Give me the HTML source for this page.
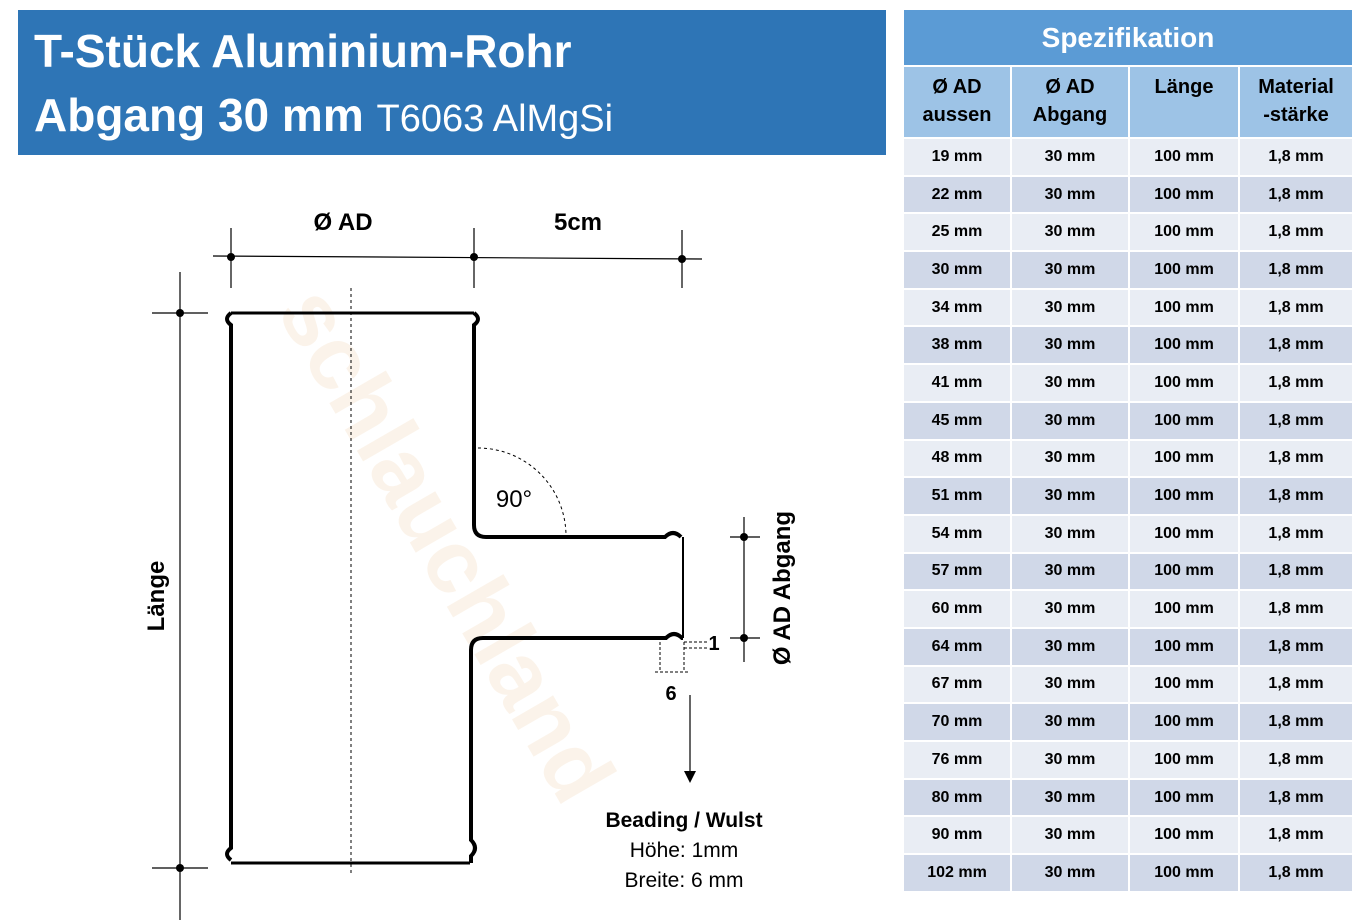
<!DOCTYPE html>
<html><head><meta charset="utf-8"><style>
body{margin:0;width:1357px;height:922px;background:#fff;position:relative;overflow:hidden;font-family:"Liberation Sans",sans-serif}
.ban{position:absolute;left:18px;top:10px;width:868px;height:145px;background:#2e75b6;color:#fff;font-weight:bold}
table{position:absolute;left:904px;top:10px;border-collapse:separate;border-spacing:2px 2px;margin:-2px;font-weight:bold;font-size:16px;text-align:center}
td{padding:0}
tr.d{height:35.7px}
</style></head><body>
<div class="ban">
<div style="position:absolute;left:16px;top:14px;font-size:46px">T-Stück Aluminium-Rohr</div>
<div style="position:absolute;left:16px;top:78px;font-size:46px">Abgang 30 mm <span style="font-weight:normal;font-size:38px">T6063 AlMgSi</span></div>
</div>
<svg width="1357" height="922" style="position:absolute;left:0;top:0">
<text x="420" y="560" transform="rotate(60 420 560)" font-size="90" font-weight="bold" fill="#f9ecdd" text-anchor="middle" opacity="0.6">schlauchland</text>
<g stroke="#000" fill="none">
<path d="M231 313 H474 M231 863 H470" stroke-width="3"/>
<path d="M231 313 q-8 6 0 12 V848 q-8 6 0 12" stroke-width="4"/>
<path d="M474 313 q8 6 0 12 V525 q0 12 12 12 H665 q8 -8 16 0 M683 638 H682 q-8 -8 -16 0 H483 q-12 0 -12 12 V840 q8 8 0 16 V863" stroke-width="4"/>
<path d="M683 537 V638" stroke-width="2"/>
<path d="M351 288 V873" stroke-dasharray="3,3" stroke-width="1"/>
<path d="M478 448 A88 88 0 0 1 566 536" stroke-dasharray="3,3" stroke-width="1"/>
<path d="M213 256 L702 259 M231 228 V288 M474 228 V288 M682 230 V288" stroke-width="1.2"/>
<path d="M180 272 V920 M152 313 H208 M152 868 H208" stroke-width="1.2"/>
<path d="M744 517 V662 M730 537 H760 M730 638 H760" stroke-width="1.2"/>
<path d="M660 642 V672 M684 642 V672 M655 672 H688 M684 642 H708 M684 648 H708" stroke-dasharray="3,2" stroke-width="1"/>
<path d="M690 695 V772" stroke-width="1.2"/>
</g>
<g fill="#000"><circle cx="231" cy="257" r="4"/><circle cx="474" cy="257" r="4"/><circle cx="682" cy="259" r="4"/><circle cx="180" cy="313" r="4"/><circle cx="180" cy="868" r="4"/><circle cx="744" cy="537" r="4"/><circle cx="744" cy="638" r="4"/>
<path d="M684 771 L696 771 L690 783Z"/></g>
<g font-family="Liberation Sans,sans-serif" font-size="24" font-weight="bold">
<text x="343" y="230" text-anchor="middle">Ø AD</text>
<text x="578" y="230" text-anchor="middle">5cm</text>
<text x="164" y="596" transform="rotate(-90 164 596)" text-anchor="middle">Länge</text>
<text x="790" y="588" transform="rotate(-90 790 588)" text-anchor="middle">Ø AD Abgang</text>
<text x="514" y="507" text-anchor="middle" font-weight="normal">90°</text>
<text x="714" y="650" text-anchor="middle" font-size="20">1</text>
<text x="671" y="700" text-anchor="middle" font-size="20">6</text>
<text x="684" y="827" text-anchor="middle" font-size="21">Beading / Wulst</text>
<text x="684" y="857" text-anchor="middle" font-size="21" font-weight="normal">Höhe: 1mm</text>
<text x="684" y="887" text-anchor="middle" font-size="21" font-weight="normal">Breite: 6 mm</text>
</g>
</svg>
<table>
<tr><td colspan="4" style="background:#5b9bd5;color:#fff;height:55px;font-size:28px">Spezifikation</td></tr>
<tr style="background:#9dc3e6;font-size:20px;height:70px;vertical-align:top;line-height:28px"><td style="width:106px;padding-top:6px">Ø AD<br>aussen</td><td style="width:116px;padding-top:6px">Ø AD<br>Abgang</td><td style="width:108px;padding-top:6px">Länge</td><td style="width:112px;padding-top:6px">Material<br>-stärke</td></tr>
<tr class="d" style="background:#e9edf4"><td>19 mm</td><td>30 mm</td><td>100 mm</td><td>1,8 mm</td></tr>
<tr class="d" style="background:#d0d8e8"><td>22 mm</td><td>30 mm</td><td>100 mm</td><td>1,8 mm</td></tr>
<tr class="d" style="background:#e9edf4"><td>25 mm</td><td>30 mm</td><td>100 mm</td><td>1,8 mm</td></tr>
<tr class="d" style="background:#d0d8e8"><td>30 mm</td><td>30 mm</td><td>100 mm</td><td>1,8 mm</td></tr>
<tr class="d" style="background:#e9edf4"><td>34 mm</td><td>30 mm</td><td>100 mm</td><td>1,8 mm</td></tr>
<tr class="d" style="background:#d0d8e8"><td>38 mm</td><td>30 mm</td><td>100 mm</td><td>1,8 mm</td></tr>
<tr class="d" style="background:#e9edf4"><td>41 mm</td><td>30 mm</td><td>100 mm</td><td>1,8 mm</td></tr>
<tr class="d" style="background:#d0d8e8"><td>45 mm</td><td>30 mm</td><td>100 mm</td><td>1,8 mm</td></tr>
<tr class="d" style="background:#e9edf4"><td>48 mm</td><td>30 mm</td><td>100 mm</td><td>1,8 mm</td></tr>
<tr class="d" style="background:#d0d8e8"><td>51 mm</td><td>30 mm</td><td>100 mm</td><td>1,8 mm</td></tr>
<tr class="d" style="background:#e9edf4"><td>54 mm</td><td>30 mm</td><td>100 mm</td><td>1,8 mm</td></tr>
<tr class="d" style="background:#d0d8e8"><td>57 mm</td><td>30 mm</td><td>100 mm</td><td>1,8 mm</td></tr>
<tr class="d" style="background:#e9edf4"><td>60 mm</td><td>30 mm</td><td>100 mm</td><td>1,8 mm</td></tr>
<tr class="d" style="background:#d0d8e8"><td>64 mm</td><td>30 mm</td><td>100 mm</td><td>1,8 mm</td></tr>
<tr class="d" style="background:#e9edf4"><td>67 mm</td><td>30 mm</td><td>100 mm</td><td>1,8 mm</td></tr>
<tr class="d" style="background:#d0d8e8"><td>70 mm</td><td>30 mm</td><td>100 mm</td><td>1,8 mm</td></tr>
<tr class="d" style="background:#e9edf4"><td>76 mm</td><td>30 mm</td><td>100 mm</td><td>1,8 mm</td></tr>
<tr class="d" style="background:#d0d8e8"><td>80 mm</td><td>30 mm</td><td>100 mm</td><td>1,8 mm</td></tr>
<tr class="d" style="background:#e9edf4"><td>90 mm</td><td>30 mm</td><td>100 mm</td><td>1,8 mm</td></tr>
<tr class="d" style="background:#d0d8e8"><td>102 mm</td><td>30 mm</td><td>100 mm</td><td>1,8 mm</td></tr>
</table>
</body></html>
